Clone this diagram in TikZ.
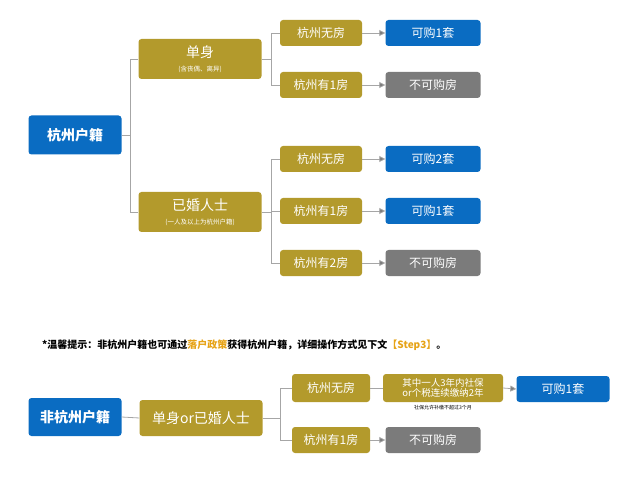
\documentclass[tikz,border=0pt]{standalone}
\usepackage{fontspec}
\setmainfont{Noto Sans CJK SC}
\usetikzlibrary{arrows.meta}
\definecolor{gold}{HTML}{B39A2C}
\definecolor{blu}{HTML}{0A6CC2}
\definecolor{gry}{HTML}{7B7B7B}
\definecolor{lin}{HTML}{A6A6A6}
\definecolor{org}{HTML}{E6A317}
\tikzset{
 bx/.style={rounded corners=3pt,text=white,align=center,inner sep=0pt},
 g/.style={bx,fill=gold},
 b/.style={bx,fill=blu},
 gr/.style={bx,fill=gry},
 l3/.style={minimum width=82pt,minimum height=26pt,font=\fontsize{12}{12}\selectfont},
 r3/.style={minimum width=95pt,minimum height=26pt,font=\fontsize{12}{12}\selectfont},
 l2/.style={minimum width=123pt,minimum height=40pt},
 ln/.style={draw=lin,line width=0.8pt},
 ar/.style={ln,-{Triangle[length=6pt,width=6pt,fill=gry]}},
}
\begin{document}
\begin{tikzpicture}[x=1pt,y=-1pt]
\useasboundingbox (0,0) rectangle (640,481);
\node[b,minimum width=93pt,minimum height=39pt,font=\bfseries\fontsize{14}{14}\selectfont] (r1) at (75,135) {杭州户籍};
\node[g,l2] (s) at (200,59) {{\fontsize{14}{14}\selectfont 单身}\\[2pt]{\fontsize{6.5}{7}\selectfont (含丧偶、离异)}};
\node[g,l2] (m) at (200,212) {{\fontsize{14}{14}\selectfont 已婚人士}\\[2pt]{\fontsize{6.5}{7}\selectfont (一人及以上为杭州户籍)}};
\node[g,l3] (a1) at (321,33) {杭州无房};
\node[g,l3] (a2) at (321,85) {杭州有1房};
\node[b,r3] (c1) at (433,33) {可购1套};
\node[gr,r3] (c2) at (433,85) {不可购房};
\node[g,l3] (a3) at (321,159) {杭州无房};
\node[g,l3] (a4) at (321,211) {杭州有1房};
\node[g,l3] (a5) at (321,263) {杭州有2房};
\node[b,r3] (c3) at (433,159) {可购2套};
\node[b,r3] (c4) at (433,211) {可购1套};
\node[gr,r3] (c5) at (433,263) {不可购房};
\draw[ln] (r1.east) -- (130,135) |- (s.west);
\draw[ln] (130,135) |- (m.west);
\draw[ln] (s.east) -- (271,59) |- (a1.west);
\draw[ln] (271,59) |- (a2.west);
\draw[ln] (m.east) -- (271,212) |- (a3.west);
\draw[ln] (271,212) |- (a4.west);
\draw[ln] (271,212) |- (a5.west);
\foreach \i in {1,...,5} \draw[ar] (a\i.east) -- (c\i.west);
\node[anchor=west,font=\bfseries\fontsize{10}{10}\selectfont,inner sep=0pt] (note) at (42,345) {*温馨提示：非杭州户籍也可通过\textcolor{org}{落户政策}获得杭州户籍，详细操作方式见下文\textcolor{org}{【Step3】}。};
\node[b,minimum width=93pt,minimum height=38pt,font=\bfseries\fontsize{14}{14}\selectfont] (r2) at (75,417) {非杭州户籍};
\node[g,minimum width=123pt,minimum height=36pt,font=\fontsize{14}{14}\selectfont] (n) at (201,418) {单身or已婚人士};
\node[g,l3,minimum width=78pt,minimum height=28pt] (d1) at (331,388) {杭州无房};
\node[g,l3,minimum width=78pt,minimum height=26pt] (d2) at (331,440) {杭州有1房};
\node[g,minimum width=120pt,minimum height=28pt,font=\fontsize{9.5}{10.5}\selectfont] (k) at (443,388) {其中一人3年内社保\\or个税连续缴纳2年};
\node[font=\fontsize{5}{5}\selectfont,inner sep=0pt] (kn) at (443,408) {社保允许补缴不超过3个月};
\node[b,r3,minimum width=93pt] (e1) at (563,389) {可购1套};
\node[gr,r3] (e2) at (433,440) {不可购房};
\draw[ln] (r2.east) -- (n.west);
\draw[ln] (n.east) -- (280,418) |- (d1.west);
\draw[ln] (280,418) |- (d2.west);
\draw[ln] (d1.east) -- (k.west);
\draw[ar] (k.east) -- (e1.west);
\draw[ar] (d2.east) -- (e2.west);
\end{tikzpicture}
\end{document}
